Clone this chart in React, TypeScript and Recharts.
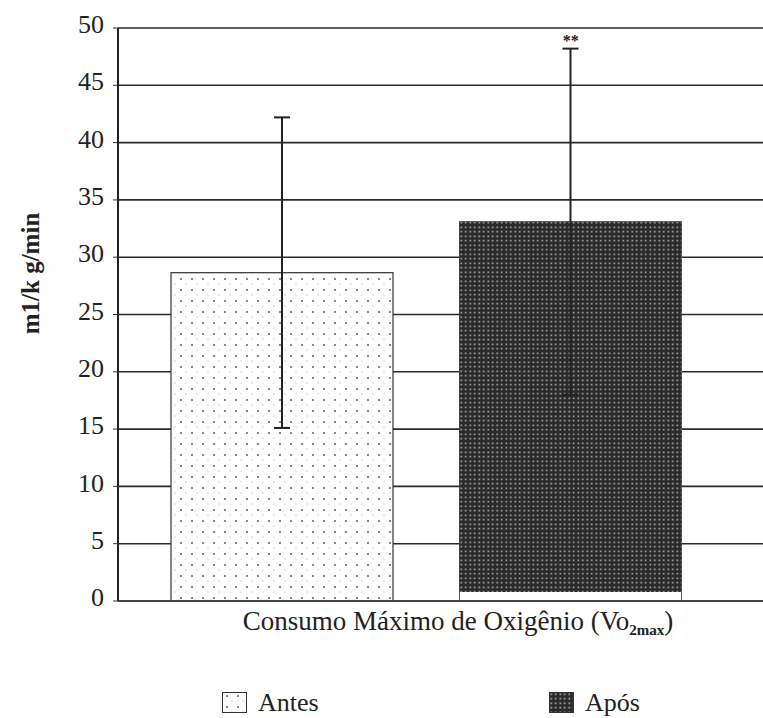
import { BarChart, Bar, XAxis, YAxis, CartesianGrid, ErrorBar, ReferenceDot, Cell } from "recharts";

const categories = ["Antes", "Após"];
const means = [28.65, 33.1];
const errors = [13.55, 15.1];
const marks = ["", "**"];
const yTicks = [0, 5, 10, 15, 20, 25, 30, 35, 40, 45, 50];

const data = categories.map((name, i) => ({ name, value: means[i], err: errors[i] }));

const FONT = "'Liberation Serif', 'Times New Roman', serif";
const patternIds = ["dotsLight", "dotsDark"];

function BarShape(props: any) {
  const { x, y, width, height, index } = props;
  if (index === 1) {
    // dark bar leaves a thin white strip at the base
    return (
      <g>
        <rect x={x} y={y} width={width} height={height} fill="#fff" stroke="#555" strokeWidth={1} />
        <rect x={x} y={y} width={width} height={Math.max(0, height - 9)} fill="url(#dotsDark)" />
      </g>
    );
  }
  return <rect x={x} y={y} width={width} height={height} fill="url(#dotsLight)" stroke="#333" strokeWidth={1.2} />;
}

function YTick(props: any) {
  const { x, y, payload } = props;
  return (
    <text x={x} y={y - 4} dy="0.35em" textAnchor="end" fontFamily={FONT} fontSize={26} fill="#222">
      {payload.value}
    </text>
  );
}

function YTitle(props: any) {
  const { viewBox } = props;
  const x = 30;
  const y = viewBox.y + viewBox.height / 2 - 41;
  return (
    <text
      x={x}
      y={y}
      transform={`rotate(-90 ${x} ${y})`}
      dy="0.35em"
      textAnchor="middle"
      fontFamily={FONT}
      fontSize={25}
      fontWeight="bold"
      fill="#222"
    >
      m1/k g/min
    </text>
  );
}

function XTitle(props: any) {
  const { viewBox } = props;
  const cx = 458;
  const y = viewBox.y + viewBox.height + 28;
  return (
    <text x={cx} y={y} textAnchor="middle" fontFamily={FONT} fontSize={27} fill="#222">
      Consumo Máximo de Oxigênio (Vo
      <tspan dy={5} fontSize={15} fontWeight="bold">2max</tspan>
      <tspan dy={-5}>)</tspan>
    </text>
  );
}

function LegendBox() {
  return (
    <div style={{ position: "absolute", left: 0, top: 689, width: 763, height: 28, fontFamily: FONT, fontSize: 26, color: "#222" }}>
      {categories.map((c, i) => (
        <div key={c} style={{ position: "absolute", left: i === 0 ? 222 : 549, top: 0, display: "flex", alignItems: "center", lineHeight: "28px" }}>
          <svg width={26} height={22} style={{ marginRight: 10 }}>
            <rect x={0.5} y={0.5} width={24} height={20} fill={`url(#${patternIds[i]})`} stroke="#333" />
          </svg>
          <span>{c}</span>
        </div>
      ))}
    </div>
  );
}

export default function App() {
  return (
    <div style={{ position: "absolute", left: 0, top: 0, width: 763, height: 718, background: "#fff" }}>
      <svg width={0} height={0} style={{ position: "absolute" }}>
        <defs>
          <pattern id="dotsLight" width={11} height={11} patternUnits="userSpaceOnUse">
            <rect width={11} height={11} fill="#fff" />
            <rect x={4} y={3} width={2} height={2} fill="#888" />
            <rect x={9.5} y={8.5} width={1} height={1} fill="#aaa" />
          </pattern>
          <pattern id="dotsDark" width={4.5} height={4.5} patternUnits="userSpaceOnUse">
            <rect width={4.5} height={4.5} fill="#2a2a2a" />
            <rect x={1.5} y={1.5} width={1.5} height={1.5} fill="#c8c8c8" />
          </pattern>
        </defs>
      </svg>
      <BarChart
        width={763}
        height={718}
        data={data}
        margin={{ top: 28, right: 0, left: 0, bottom: 116 }}
        barSize={222}
      >
        <CartesianGrid vertical={false} stroke="#2b2b2b" strokeWidth={1.6} />
        <XAxis
          dataKey="name"
          tick={false}
          tickLine={false}
          axisLine={{ stroke: "#444", strokeWidth: 2 }}
          padding={{ left: 20, right: 48 }}
          label={<XTitle />}
          height={1}
        />
        <YAxis
          width={118}
          domain={[0, 50]}
          ticks={yTicks}
          interval={0}
          tickSize={5}
          tickMargin={9}
          tick={<YTick />}
          tickLine={{ stroke: "#333" }}
          axisLine={{ stroke: "#222", strokeWidth: 2 }}
          label={<YTitle />}
        />
        <Bar dataKey="value" shape={<BarShape />} isAnimationActive={false}>
          {data.map((d) => (
            <Cell key={d.name} />
          ))}
          <ErrorBar dataKey="err" width={8} stroke="#222" strokeWidth={2} direction="y" />
        </Bar>
        {categories.map((c, i) =>
          marks[i] ? (
            <ReferenceDot
              key={c}
              x={c}
              y={means[i] + errors[i]}
              r={0}
              stroke="none"
              label={{ value: marks[i], position: "top", offset: 3, style: { fontFamily: FONT, fontSize: 16, fontWeight: "bold", fill: "#222" } }}
            />
          ) : null
        )}
      </BarChart>
      <LegendBox />
    </div>
  );
}
